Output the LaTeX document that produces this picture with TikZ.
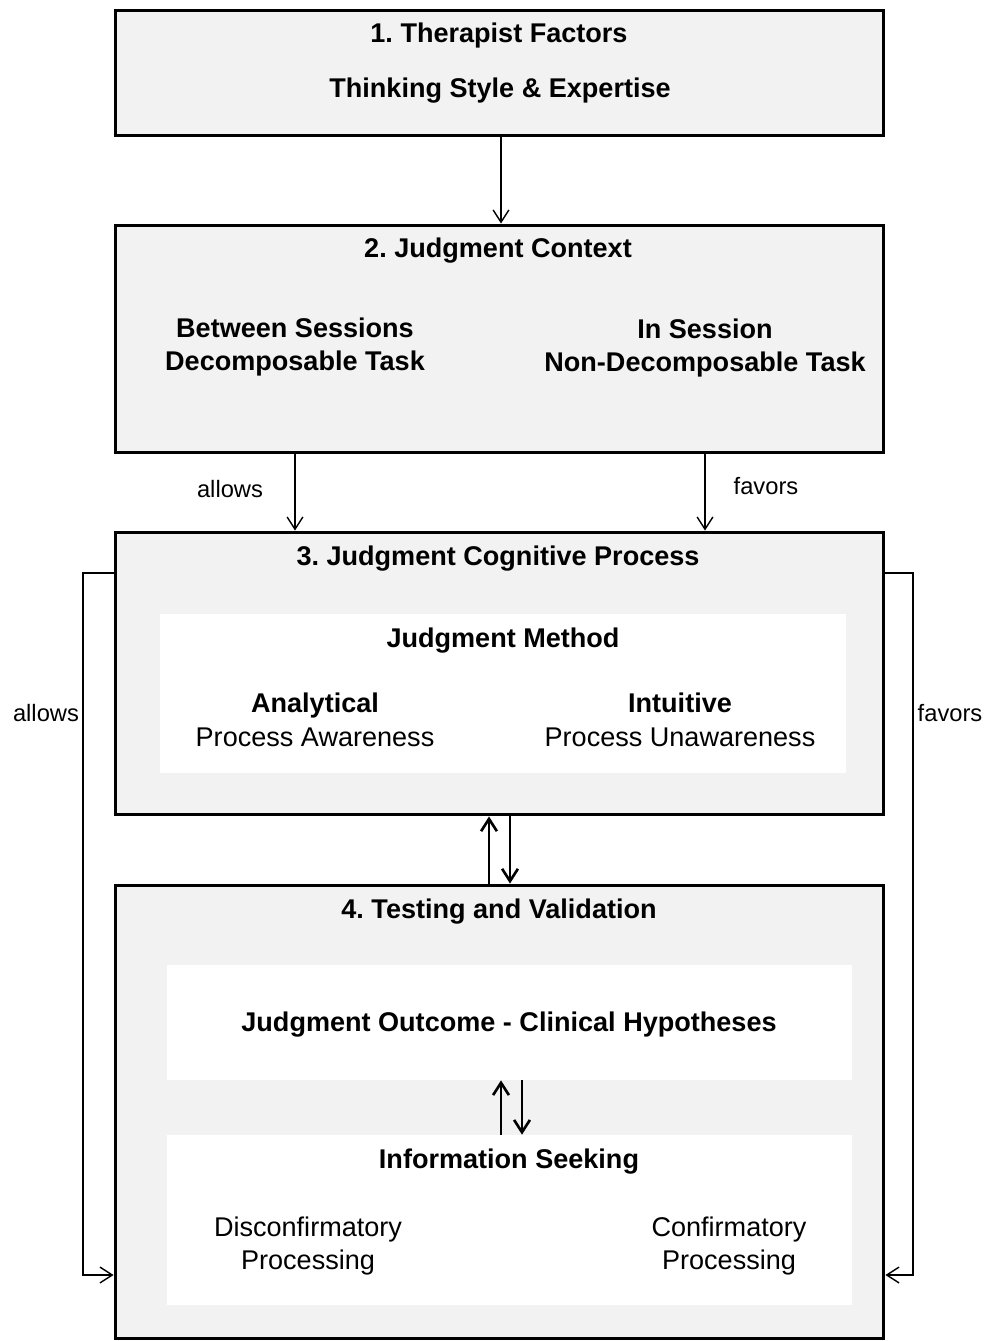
\documentclass[tikz,border=0pt]{standalone}
\usepackage{fontspec}
\setmainfont{Liberation Sans}
\usetikzlibrary{arrows.meta}
\definecolor{boxgray}{HTML}{F2F2F2}
\frenchspacing
\tikzset{
  box/.style={draw, fill=boxgray, line width=1.7pt, minimum width=15.38cm, inner sep=0pt},
  inbox/.style={fill=white, inner sep=0pt},
  txt/.style={font=\fontsize{15.4}{19}\selectfont, align=center, inner sep=0pt, yshift=-0.06cm},
  ttl/.style={txt, font=\fontsize{15.4}{19}\selectfont\bfseries},
  lbl/.style={font=\fontsize{13.5}{16}\selectfont, inner sep=0pt},
  arr/.style={-{Straight Barb[length=7pt,width=9pt]}, line width=0.8pt},
  barr/.style={-{Straight Barb[length=7pt,width=9pt]}, line width=1.5pt}
}
\begin{document}
\begin{tikzpicture}[x=0.02cm, y=-0.02cm]
      \useasboundingbox (0,0) rectangle (987,1341);
      \foreach \n/\y/\h in {therapist/73/2.52cm, context/339/4.56cm, process/673.5/5.66cm, testing/1112/9.08cm}{
      \node[box, minimum height=\h] (\n) at (499.5,\y) {};
      }
      \node[inbox, minimum width=13.72cm, minimum height=3.18cm] (method) at (503,693.5) {};
      \node[inbox, minimum width=13.7cm, minimum height=2.3cm] (outcome) at (509.5,1022.5) {};
      \node[inbox, minimum width=13.7cm, minimum height=3.4cm] (seeking) at (509.5,1220) {};

      \node[ttl] (t1) at (499,33) {1. Therapist Factors};
      \node[ttl] (style) at (500,88) {Thinking Style \& Expertise};
      \node[ttl] (t2) at (498,248) {2. Judgment Context};
      \node[ttl] (between) at (295,344) {Between Sessions\\Decomposable Task};
      \node[ttl] (insession) at (705,345) {In Session\\Non-Decomposable Task};
      \node[ttl] (t3) at (498,556) {3. Judgment Cognitive Process};
      \node[ttl] (jm) at (503,638) {Judgment Method};
      \node[txt] (analytical) at (315,717) {\textbf{Analytical}\\Process Awareness};
      \node[txt] (intuitive) at (680,717) {\textbf{Intuitive}\\Process Unawareness};
      \node[ttl] (t4) at (499,909) {4. Testing and Validation};
      \node[ttl] (jo) at (509,1022) {Judgment Outcome - Clinical Hypotheses};
      \node[ttl] (info) at (509,1159) {Information Seeking};
      \node[txt] (disconf) at (308,1243) {Disconfirmatory\\Processing};
      \node[txt] (conf) at (729,1243) {Confirmatory\\Processing};

      \node[lbl] (allowsA) at (230,489) {allows};
      \node[lbl] (favorsA) at (766,486) {favors};
      \node[lbl] (allowsB) at (46,713) {allows};
      \node[lbl] (favorsB) at (950,713) {favors};

      \coordinate (lt) at (83,573);
      \coordinate (lb) at (83,1275);
      \coordinate (rt) at (913,573);
      \coordinate (rb) at (913,1275);

      \draw[arr] (therapist.south -| 501,0) -- (context.north -| 501,0);
      \draw[arr] (between |- context.south) -- (between |- process.north);
      \draw[arr] (insession |- context.south) -- (insession |- process.north);
      \draw[barr] (testing.north -| 489,0) -- (process.south -| 489,0);
      \draw[barr] (process.south -| 510,0) -- (testing.north -| 510,0);
      \draw[barr] (seeking.north -| 501,0) -- (outcome.south -| 501,0);
      \draw[barr] (outcome.south -| 522,0) -- (seeking.north -| 522,0);
      \draw[arr] (process.west |- lt) -- (lt) -- (lb) -- (testing.west |- lb);
      \draw[arr] (process.east |- rt) -- (rt) -- (rb) -- (testing.east |- rb);
  \end{tikzpicture}
\end{document}
